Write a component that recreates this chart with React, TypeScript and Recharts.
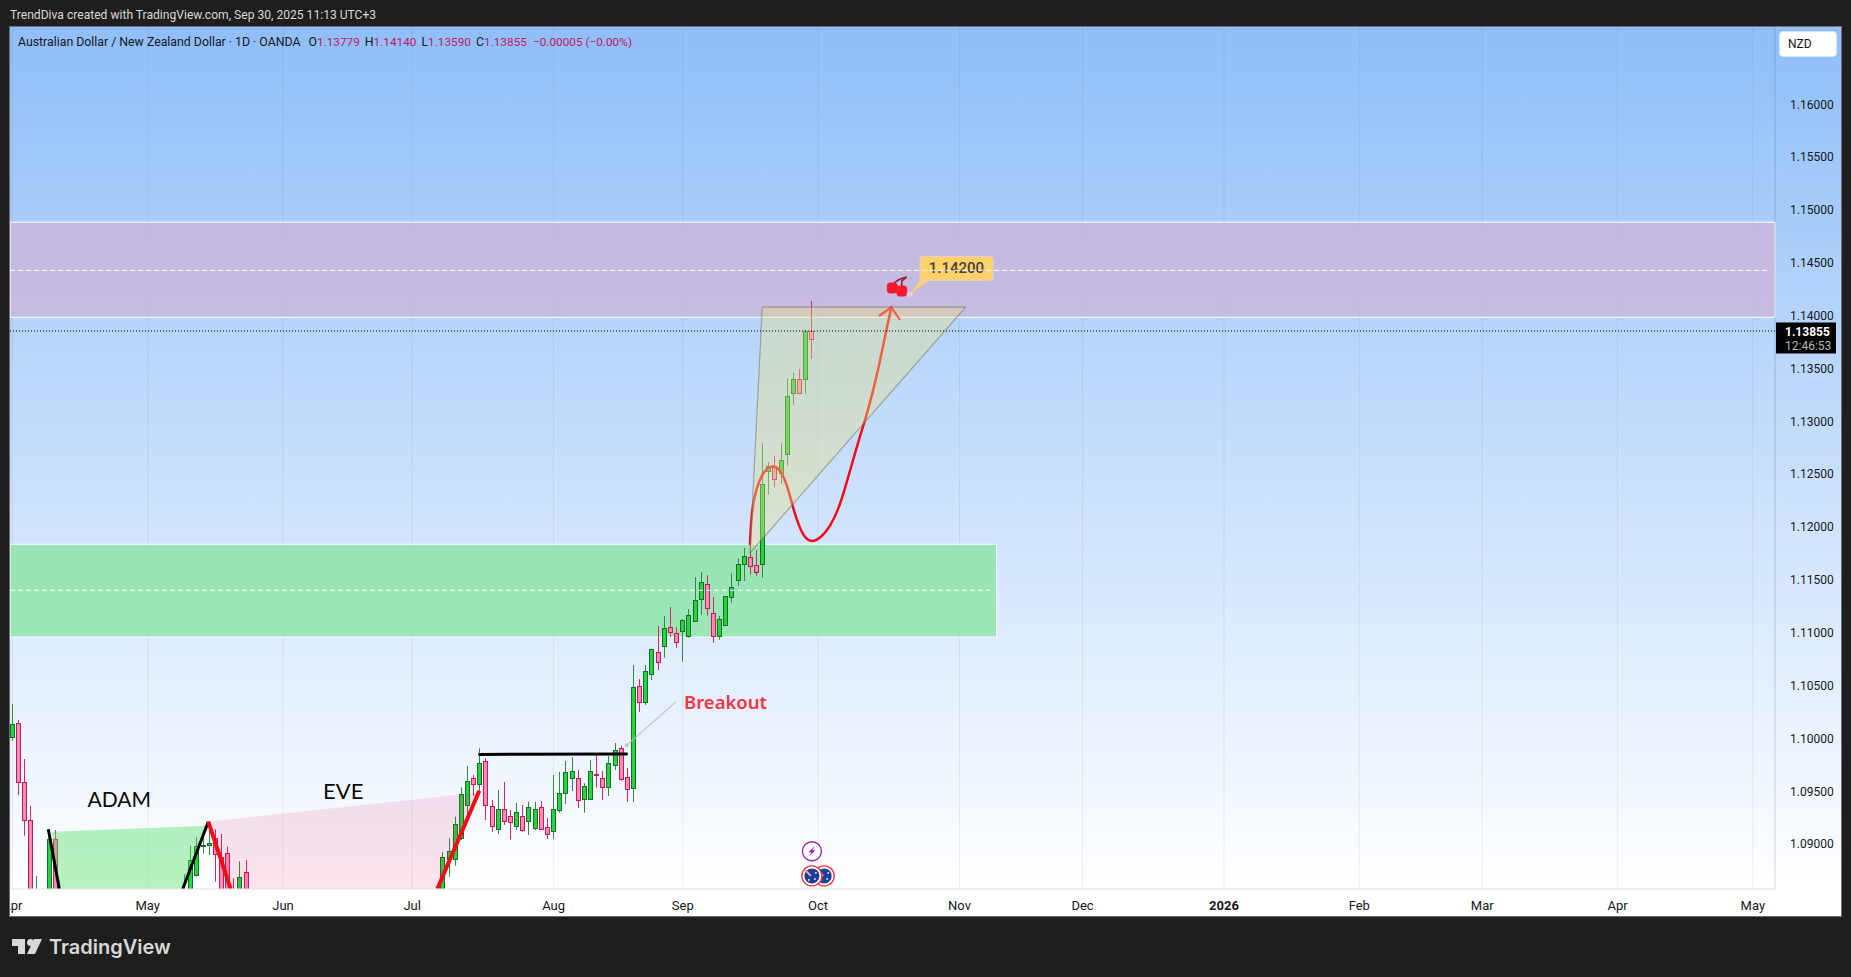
import React from 'react';
import {
  Area,
  Bar,
  CartesianGrid,
  ComposedChart,
  Line,
  ReferenceArea,
  ReferenceDot,
  ReferenceLine,
  XAxis,
  YAxis,
} from 'recharts';

// bars are counted in trading days, Apr 1 2025 = 0. [index, open, high, low, close]
const aprilBars = [
  [0, 1.10011, 1.10326, 1.09979, 1.10134],
  [1, 1.10143, 1.10175, 1.09465, 1.09592],
  [2, 1.09585, 1.09806, 1.09081, 1.09226],
  [3, 1.09226, 1.09361, 1.083, 1.084],
  [4, 1.0835, 1.08699, 1.0825, 1.085],
  [6, 1.0845, 1.091, 1.0835, 1.09046],
  [7, 1.09046, 1.09134, 1.083, 1.084],
];
const mayBars = [
  [28, 1.083, 1.08718, 1.0825, 1.085],
  [29, 1.0845, 1.08986, 1.0835, 1.08847],
  [30, 1.08712, 1.09065, 1.08693, 1.08983],
  [31, 1.08985, 1.09134, 1.08913, 1.08995],
  [32, 1.08989, 1.09198, 1.08898, 1.09008],
  [33, 1.09055, 1.09141, 1.08645, 1.08904],
  [34, 1.08882, 1.09096, 1.0842, 1.085],
  [35, 1.08913, 1.08977, 1.0838, 1.0845],
  [36, 1.085, 1.08677, 1.0835, 1.084],
  [37, 1.085, 1.08838, 1.0842, 1.08686],
  [38, 1.08734, 1.0885, 1.0838, 1.0845],
];
const julyBars = [
  [70, 1.0845, 1.08926, 1.0838, 1.08876],
  [71, 1.08863, 1.09055, 1.08693, 1.08936],
  [72, 1.08863, 1.0926, 1.08797, 1.09188],
  [73, 1.09055, 1.09538, 1.0904, 1.09472],
  [74, 1.09368, 1.0974, 1.09292, 1.09595],
  [75, 1.09623, 1.09655, 1.09459, 1.09573],
  [76, 1.09573, 1.09907, 1.09481, 1.09765],
  [77, 1.09784, 1.09812, 1.09229, 1.09374],
  [78, 1.09361, 1.09418, 1.09118, 1.09175],
  [79, 1.09147, 1.09513, 1.09096, 1.0933],
  [80, 1.0933, 1.09588, 1.09182, 1.09223],
  [81, 1.09264, 1.09323, 1.09043, 1.09213],
  [82, 1.09175, 1.0939, 1.09134, 1.09301],
  [83, 1.09264, 1.09371, 1.09118, 1.09137],
  [84, 1.09223, 1.09402, 1.09087, 1.09349],
  [85, 1.09156, 1.09402, 1.09134, 1.0933],
  [86, 1.09349, 1.09409, 1.09134, 1.09147],
  [87, 1.09159, 1.09248, 1.09049, 1.09099],
];
const augustBars = [
  [88, 1.09128, 1.09655, 1.09049, 1.0933],
  [89, 1.09327, 1.09683, 1.09298, 1.09481],
  [90, 1.09487, 1.09787, 1.0938, 1.0968],
  [91, 1.09629, 1.09825, 1.09503, 1.09689],
  [92, 1.09623, 1.09702, 1.09342, 1.09421],
  [93, 1.09431, 1.09576, 1.09298, 1.09547],
  [94, 1.09431, 1.09796, 1.09431, 1.09689],
  [95, 1.09667, 1.09844, 1.09535, 1.09658],
  [96, 1.09623, 1.09692, 1.09418, 1.09544],
  [97, 1.09544, 1.09835, 1.09456, 1.09765],
  [98, 1.09753, 1.09957, 1.09702, 1.09888],
  [99, 1.09907, 1.09932, 1.09601, 1.0962],
  [100, 1.09633, 1.09721, 1.09399, 1.09525],
  [101, 1.09535, 1.10695, 1.09399, 1.10484],
  [102, 1.10493, 1.10562, 1.10251, 1.10348],
  [103, 1.10348, 1.10695, 1.10317, 1.10635],
  [104, 1.10606, 1.1085, 1.10553, 1.10843],
  [105, 1.10815, 1.11064, 1.10647, 1.1072],
  [106, 1.10878, 1.11158, 1.10764, 1.11042],
  [107, 1.11051, 1.11244, 1.1096, 1.1101],
  [108, 1.10994, 1.11054, 1.10859, 1.10916],
];
const septemberBars = [
  [109, 1.1102, 1.1113, 1.10726, 1.11117],
  [110, 1.10972, 1.11225, 1.10953, 1.11165],
  [111, 1.11108, 1.11527, 1.11105, 1.11307],
  [112, 1.11316, 1.11575, 1.11171, 1.11477],
  [113, 1.11458, 1.11546, 1.11162, 1.11231],
  [114, 1.11184, 1.11338, 1.10906, 1.10972],
  [115, 1.10972, 1.11158, 1.10934, 1.11127],
  [116, 1.11076, 1.11344, 1.11067, 1.11344],
  [117, 1.11335, 1.11562, 1.11285, 1.1143],
  [118, 1.11496, 1.11704, 1.11442, 1.11647],
  [119, 1.11647, 1.11802, 1.1149, 1.11723],
  [120, 1.11714, 1.11837, 1.1155, 1.11635],
  [121, 1.11638, 1.11783, 1.1154, 1.11578],
  [122, 1.11647, 1.12793, 1.11521, 1.12408],
  [123, 1.12528, 1.12616, 1.12307, 1.12575],
  [124, 1.12575, 1.12673, 1.12376, 1.12458],
  [125, 1.12509, 1.12793, 1.12408, 1.12632],
  [126, 1.12688, 1.13408, 1.12581, 1.13237],
  [127, 1.13272, 1.13464, 1.13155, 1.13398],
  [128, 1.13398, 1.13496, 1.13266, 1.13266],
  [129, 1.13398, 1.13865, 1.13262, 1.13852],
  // drawn pink in the picture even though the legend says O<C
  [130, 1.13855, 1.1414, 1.1359, 1.13779],
];

const candles = [...aprilBars, ...mayBars, ...julyBars, ...augustBars, ...septemberBars].map(
  ([i, o, h, l, c]) => ({ i, o, h, l, c, range: [l, h] }),
);

const monthTicks = [0, 22, 44, 65, 88, 109, 131, 154, 174, 197, 219, 239, 261, 283];
const monthLabels = ['Apr', 'May', 'Jun', 'Jul', 'Aug', 'Sep', 'Oct', 'Nov', 'Dec', '2026', 'Feb', 'Mar', 'Apr', 'May'];
const priceTicks = [1.09, 1.095, 1.1, 1.105, 1.11, 1.115, 1.12, 1.125, 1.13, 1.135, 1.14, 1.145, 1.15, 1.155, 1.16];

const xDomain = [-0.39, 286.6];
const yDomain = [1.08576, 1.16731];

const lastClose = 1.13855;
const lastCloseLabel = '1.13855';
const countdownLabel = '12:46:53';

// drawing tools, in bar index / price
const adamBand = [
  { i: 6.39, band: [1.09118, 1.09118] },
  { i: 7.63, band: [1.08576, 1.09121] },
  { i: 27.69, band: [1.08576, 1.09166] },
  { i: 31.69, band: [1.09175, 1.09175] },
];
const eveBand = [
  { i: 31.85, band: [1.09213, 1.09213] },
  { i: 35.5, band: [1.08576, 1.09236] },
  { i: 69.09, band: [1.08576, 1.09447] },
  { i: 75.71, band: [1.09489, 1.09489] },
];
const triangleBand = [
  { i: 119.93, band: [1.11755, 1.11755] },
  { i: 121.93, band: [1.11887, 1.1408] },
  { i: 155, band: [1.1408, 1.1408] },
];
const adamLeft = [{ i: 5.84, p: 1.09141 }, { i: 7.63, p: 1.08576 }];
const adamRight = [{ i: 27.69, p: 1.08576 }, { i: 31.85, p: 1.09213 }];
const eveLeft = [{ i: 31.85, p: 1.09213 }, { i: 35.5, p: 1.08576 }];
const eveRight = [{ i: 69.09, p: 1.08576 }, { i: 75.92, p: 1.09506 }];
const neckline = [{ i: 75.76, p: 1.09849 }, { i: 100.05, p: 1.09853 }];
const breakoutLeader = [{ i: 99.9, p: 1.09936 }, { i: 107.9, p: 1.10348 }];
const projection = [
  { i: 119.93, p: 1.11831 },
  { i: 120.1, p: 1.12067 },
  { i: 120.59, p: 1.12288 },
  { i: 121.56, p: 1.12465 },
  { i: 122.65, p: 1.12559 },
  { i: 123.89, p: 1.12585 },
  { i: 125.09, p: 1.12524 },
  { i: 126.11, p: 1.1237 },
  { i: 126.81, p: 1.12209 },
  { i: 127.79, p: 1.1202 },
  { i: 128.88, p: 1.1189 },
  { i: 130.08, p: 1.11855 },
  { i: 131.59, p: 1.11905 },
  { i: 132.94, p: 1.12004 },
  { i: 134.29, p: 1.12162 },
  { i: 135.38, p: 1.12367 },
  { i: 136.47, p: 1.12587 },
  { i: 137.54, p: 1.12808 },
  { i: 138.63, p: 1.13007 },
  { i: 139.56, p: 1.13202 },
  { i: 140.53, p: 1.13423 },
  { i: 141.89, p: 1.13801 },
  { i: 142.91, p: 1.1408 },
];
const arrowHead = [{ i: 140.93, p: 1.13997 }, { i: 142.91, p: 1.1408 }, { i: 144.32, p: 1.13959 }];

const supplyZone = { top: 1.14884, bottom: 1.13985, mid: 1.14429, end: 286.6, dashEnd: 285.9 };
const demandZone = { top: 1.11837, bottom: 1.1096, mid: 1.11402, end: 160.05, dashEnd: 159 };

const font = 'Roboto, sans-serif';

const CandleShape = (props: any) => {
  const { x, y, width, height, payload } = props;
  const { o, h, l, c } = payload;
  const up = c >= o;
  const yAt = (v: number) => y + ((h - v) / (h - l)) * height;
  // snap to whole pixels the way the chart canvas does
  const cx = Math.floor(x + width / 2) + 0.5;
  const top = Math.round(yAt(Math.max(o, c))) + 0.5;
  const bottom = Math.round(yAt(Math.min(o, c))) + 0.5;
  return (
    <g>
      <line x1={cx} x2={cx} y1={y} y2={y + height} stroke={up ? '#2e8b45' : '#e91e63'} strokeWidth={1} />
      <rect
        x={cx - 2}
        y={top}
        width={4}
        height={Math.max(bottom - top, 1)}
        fill={up ? '#23d63b' : '#f78db0'}
        stroke={up ? '#176b2c' : '#c8175f'}
        strokeWidth={1}
      />
    </g>
  );
};

const MonthTick = (props: any) => {
  const { x, y, payload, index } = props;
  const label = monthLabels[index];
  return (
    <text
      x={x}
      y={y}
      dy={13}
      textAnchor="middle"
      fontFamily={font}
      fontSize={13}
      fontWeight={label === '2026' ? 700 : 400}
      fill="#131722"
    >
      {label}
    </text>
  );
};

const PriceTag = (props: any) => {
  const { viewBox } = props;
  const x = viewBox.x + viewBox.width + 1;
  const y = viewBox.y;
  return (
    <g fontFamily={font} fontSize={12}>
      <rect x={x} y={y - 8.5} width={60} height={31} fill="#000" />
      <text x={x + 9} y={y + 5} fill="#fff" fontWeight={700}>{lastCloseLabel}</text>
      <text x={x + 9} y={y + 19} fill="#b8b8b8">{countdownLabel}</text>
    </g>
  );
};

const noteText = (text: string, size: number, color: string, weight: number, anchor: string, family: string) => (props: any) => (
  <text x={props.cx} y={props.cy} fontSize={size} fill={color} fontWeight={weight} textAnchor={anchor} fontFamily={family}>
    {text}
  </text>
);

const TargetTag = (props: any) => {
  const { cx, cy } = props;
  return (
    <g>
      <path d={`M${cx} ${cy} L${cx + 12} ${cy - 16} L${cx + 22} ${cy - 16} Z`} fill="#fed26b" />
      <circle cx={cx} cy={cy} r={3} fill="#e5cfe0" stroke="#d9c4dc" />
      <rect x={cx + 10} y={cy - 38} width={73} height={24} rx={3} fill="#fed26b" stroke="#e8cfd0" strokeWidth={1} />
      <text x={cx + 46.5} y={cy - 21} textAnchor="middle" fontFamily={font} fontSize={15} fontWeight={500} fill="#4a3f3a">1.14200</text>
    </g>
  );
};

const Cherries = (props: any) => {
  const { cx, cy } = props;
  return (
    <g>
      <path d={`M${cx - 4} ${cy - 3} Q${cx} ${cy - 9} ${cx + 10} ${cy - 11} M${cx + 5} ${cy} L${cx + 5} ${cy - 7} L${cx + 10} ${cy - 11}`} stroke="#8c2035" strokeWidth={1.6} fill="none" />
      <rect x={cx - 10} y={cy - 5.5} width={11} height={11} rx={4} fill="#f7192d" />
      <rect x={cx - 0.5} y={cy - 2.5} width={11} height={11} rx={4} fill="#f7192d" />
    </g>
  );
};

const BoltIcon = (props: any) => {
  const { cx, cy } = props;
  return (
    <g>
      <circle cx={cx} cy={cy} r={9.5} fill="#fff" stroke="#9c27b0" strokeWidth={1.4} />
      <path d={`M${cx + 3} ${cy - 5.5} L${cx - 3.5} ${cy + 1} L${cx - 0.5} ${cy + 1} L${cx - 3} ${cy + 5.5} L${cx + 3.5} ${cy - 1} L${cx + 0.5} ${cy - 1} Z`} fill="#9c27b0" />
    </g>
  );
};

const FlagIcon = (props: any) => {
  const { cx, cy } = props;
  return (
    <g>
      <circle cx={cx} cy={cy} r={10} fill="#fff" stroke="#f23645" strokeWidth={1.4} />
      <circle cx={cx} cy={cy} r={7.5} fill="#1b3f94" />
      <path d={`M${cx - 7} ${cy - 6} L${cx - 1} ${cy}`} stroke="#f7a8a8" strokeWidth={2} />
      <circle cx={cx + 3} cy={cy + 3} r={0.9} fill="#fff" />
      <circle cx={cx + 4} cy={cy - 3} r={0.9} fill="#fff" />
      <circle cx={cx - 3} cy={cy + 4} r={0.9} fill="#fff" />
    </g>
  );
};

const pinkValue = { color: '#c2185b', fontSize: 11.8 };

const App = () => {
  return (
    <div style={{ position: 'absolute', left: 0, top: 0, width: 1851, height: 977, background: '#1e1e1e', overflow: 'hidden' }}>
      <div style={{ position: 'absolute', left: 10, top: 27, width: 1831, height: 862, background: 'linear-gradient(#8fbef9, #ffffff)' }} />
      <div style={{ position: 'absolute', left: 10, top: 889, width: 1831, height: 27, background: '#fff' }} />

      <div style={{ position: 'absolute', left: 0, top: 0 }}>
        <ComposedChart
          width={1851}
          height={977}
          data={candles}
          margin={{ top: 27, right: 10, bottom: 61, left: 10 }}
        >
          <CartesianGrid horizontal={false} stroke="rgba(42,46,57,0.07)" />
          <XAxis
            dataKey="i"
            type="number"
            domain={xDomain}
            ticks={monthTicks}
            interval={0}
            height={27}
            allowDataOverflow
            axisLine={{ stroke: '#e0e3eb' }}
            tickLine={false}
            tick={<MonthTick />}
          />
          <YAxis
            type="number"
            orientation="right"
            domain={yDomain}
            ticks={priceTicks}
            interval={0}
            width={66}
            allowDataOverflow
            axisLine={{ stroke: 'rgba(42,46,57,0.12)' }}
            tickLine={false}
            tickMargin={9}
            tickFormatter={(v: number) => v.toFixed(5)}
            tick={{ fontFamily: font, fontSize: 12, fill: '#131722' }}
          />

          <ReferenceArea
            x1={xDomain[0]}
            x2={supplyZone.end}
            y1={supplyZone.bottom}
            y2={supplyZone.top}
            fill="rgb(202,181,217)"
            fillOpacity={0.8}
            stroke="#fff"
            strokeWidth={1}
            zIndex={50}
          />
          <ReferenceArea
            x1={xDomain[0]}
            x2={demandZone.end}
            y1={demandZone.bottom}
            y2={demandZone.top}
            fill="rgb(139,227,164)"
            fillOpacity={0.8}
            stroke="#fff"
            strokeWidth={1}
            zIndex={50}
          />

          <Bar dataKey="range" barSize={4} shape={<CandleShape />} isAnimationActive={false} zIndex={300} />

          <Area data={adamBand} dataKey="band" type="linear" stroke="none" fill="rgb(76,222,96)" fillOpacity={0.4} dot={false} activeDot={false} isAnimationActive={false} zIndex={320} />
          <Area data={eveBand} dataKey="band" type="linear" stroke="none" fill="rgb(233,30,99)" fillOpacity={0.12} dot={false} activeDot={false} isAnimationActive={false} zIndex={320} />

          <Line data={projection} dataKey="p" type="basis" stroke="#f50a14" strokeWidth={2.5} dot={false} activeDot={false} isAnimationActive={false} zIndex={330} />
          <Line data={arrowHead} dataKey="p" type="linear" stroke="#f50a14" strokeWidth={2.2} dot={false} activeDot={false} isAnimationActive={false} zIndex={330} />
          <Area data={triangleBand} dataKey="band" type="linear" stroke="rgb(110,105,90)" strokeOpacity={0.5} strokeWidth={1.2} fill="rgb(231,225,140)" fillOpacity={0.4} dot={false} activeDot={false} isAnimationActive={false} zIndex={340} />

          <Line data={adamLeft} dataKey="p" type="linear" stroke="#000" strokeWidth={3} dot={false} activeDot={false} isAnimationActive={false} zIndex={400} />
          <Line data={adamRight} dataKey="p" type="linear" stroke="#000" strokeWidth={3} dot={false} activeDot={false} isAnimationActive={false} zIndex={400} />
          <Line data={eveLeft} dataKey="p" type="linear" stroke="#f80a14" strokeWidth={4} dot={false} activeDot={false} isAnimationActive={false} zIndex={400} />
          <Line data={eveRight} dataKey="p" type="linear" stroke="#f80a14" strokeWidth={4} dot={false} activeDot={false} isAnimationActive={false} zIndex={400} />
          <Line data={neckline} dataKey="p" type="linear" stroke="#000" strokeWidth={3} dot={false} activeDot={false} isAnimationActive={false} zIndex={400} />
          <Line data={breakoutLeader} dataKey="p" type="linear" stroke="rgb(190,190,190)" strokeOpacity={0.8} strokeWidth={1.5} dot={false} activeDot={false} isAnimationActive={false} zIndex={400} />

          <ReferenceDot x={99.9} y={1.09936} r={2} fill="#c4c4c4" stroke="none" zIndex={410} />
          <ReferenceDot x={109.2} y={1.10279} shape={noteText('Breakout', 18.5, '#f23645', 600, 'start', '"Noto Sans", sans-serif')} zIndex={410} />
          <ReferenceDot x={17.38} y={1.09355} shape={noteText('ADAM', 21, '#0a0a0a', 400, 'middle', 'Lato, sans-serif')} zIndex={410} />
          <ReferenceDot x={53.8} y={1.09425} shape={noteText('EVE', 22, '#0a0a0a', 400, 'middle', 'Lato, sans-serif')} zIndex={410} />
          <ReferenceDot x={143.8} y={1.14262} shape={<Cherries />} zIndex={410} />
          <ReferenceDot x={145.95} y={1.14202} shape={<TargetTag />} zIndex={410} />
          <ReferenceDot x={130} y={1.08933} shape={<BoltIcon />} zIndex={410} />
          <ReferenceDot x={132} y={1.087} shape={<FlagIcon />} zIndex={410} />
          <ReferenceDot x={130} y={1.087} shape={<FlagIcon />} zIndex={410} />

          <ReferenceLine
            segment={[{ x: xDomain[0], y: supplyZone.mid }, { x: supplyZone.dashEnd, y: supplyZone.mid }]}
            stroke="#fff"
            strokeDasharray="5 3"
            zIndex={420}
          />
          <ReferenceLine
            segment={[{ x: xDomain[0], y: demandZone.mid }, { x: demandZone.dashEnd, y: demandZone.mid }]}
            stroke="#fff"
            strokeDasharray="5 3"
            zIndex={420}
          />
          <ReferenceLine y={lastClose} stroke="#000" strokeDasharray="1 2" label={<PriceTag />} zIndex={600} />
        </ComposedChart>
      </div>

      {/* chart frame */}
      <div style={{ position: 'absolute', left: 0, top: 0, width: 10, height: 977, background: '#1e1e1e' }} />
      <div style={{ position: 'absolute', left: 9, top: 26, width: 1831, height: 889, border: '1px solid #6c6f76', pointerEvents: 'none' }} />

      <div style={{ position: 'absolute', left: 10, top: 8, fontFamily: font, fontSize: 12.1, lineHeight: '14px', color: '#d8d8d8', whiteSpace: 'nowrap' }}>
        TrendDiva created with TradingView.com, Sep 30, 2025 11:13 UTC+3
      </div>
      <div style={{ position: 'absolute', left: 18, top: 35, fontFamily: font, fontSize: 12.3, lineHeight: '14px', color: '#131722', whiteSpace: 'nowrap' }}>
        Australian Dollar / New Zealand Dollar · 1D · OANDA
        <span style={{ marginLeft: 8 }}>O<span style={pinkValue}>1.13779</span></span>
        <span style={{ marginLeft: 5 }}>H<span style={pinkValue}>1.14140</span></span>
        <span style={{ marginLeft: 5 }}>L<span style={pinkValue}>1.13590</span></span>
        <span style={{ marginLeft: 5 }}>C<span style={pinkValue}>1.13855</span></span>
        <span style={{ ...pinkValue, marginLeft: 6 }}>−0.00005 (−0.00%)</span>
      </div>
      <div style={{ position: 'absolute', left: 1779, top: 31, width: 58, height: 26, boxSizing: 'border-box', background: '#fff', borderRadius: 4, border: '1px solid #d5e4f8', fontFamily: font, fontSize: 12, lineHeight: '24px', color: '#131722', paddingLeft: 8 }}>
        NZD
      </div>

      <svg style={{ position: 'absolute', left: 12, top: 939 }} width={30} height={15}>
        <path d="M0 0 H13 V15 H6 V7 H0 Z" fill="#d8d8d8" />
        <circle cx={18.5} cy={3.5} r={3.5} fill="#d8d8d8" />
        <path d="M22 0 H30 L23 15 H15 Z" fill="#d8d8d8" />
      </svg>
      <div style={{ position: 'absolute', left: 49, top: 934, fontFamily: 'Inter, sans-serif', fontWeight: 600, fontSize: 20, lineHeight: '26px', color: '#d8d8d8', whiteSpace: 'nowrap' }}>
        TradingView
      </div>
    </div>
  );
};

export default App;
